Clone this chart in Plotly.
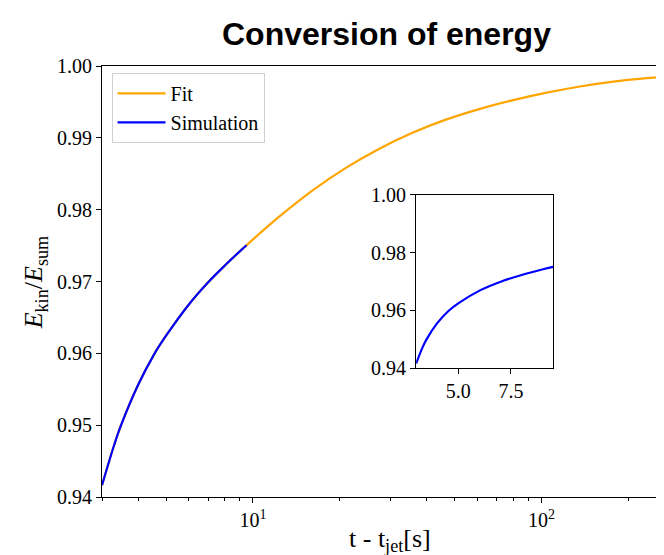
import math
import plotly.graph_objects as go

# ---- data ----
sim_t = [3.0, 3.304, 3.485, 4.0, 4.546, 5.015, 6.008, 7.012, 8.008, 9.023, 9.5]
sim_e = [0.94163, 0.94720, 0.94989, 0.95558, 0.95986, 0.96252, 0.96684,
         0.96993, 0.97226, 0.97423, 0.97505]

fit_t = [3.0, 3.304, 3.485, 4.0, 4.546, 5.015, 6.008, 7.012, 8.008, 9.023,
         9.618, 12.27, 16.01, 20.86, 27.22, 35.53, 46.34, 60.4, 79.8,
         104.2, 135.9, 177.3, 231.4, 265.0, 280.0]
fit_e = [0.94163, 0.94720, 0.94989, 0.95558, 0.95986, 0.96252, 0.96684,
         0.96993, 0.97226, 0.97423, 0.97524, 0.97895, 0.98262, 0.98575,
         0.98842, 0.99067, 0.99250, 0.99397, 0.99525, 0.99629, 0.99715,
         0.99782, 0.99830, 0.99849, 0.99855]

main_yticks = [0.94, 0.95, 0.96, 0.97, 0.98, 0.99, 1.00]
main_xticks = [10, 100]
main_xticktext = ["10<sup>1</sup>", "10<sup>2</sup>"]
main_xminor = [3, 4, 5, 6, 7, 8, 9, 20, 30, 40, 50, 60, 70, 80, 90, 200]
inset_yticks = [0.94, 0.96, 0.98, 1.00]
inset_xticks = [5.0, 7.5]

ORANGE = "#FFA500"
BLUE = "#0000FF"
SERIF = "Liberation Serif, DejaVu Serif, serif"
SANS = "Liberation Sans, Arial, sans-serif"

fig = go.Figure()

fig.add_trace(go.Scatter(x=fit_t, y=fit_e, mode="lines", name="Fit",
                         line=dict(color=ORANGE, width=2.2, shape="spline"),
                         xaxis="x", yaxis="y"))
fig.add_trace(go.Scatter(x=sim_t, y=sim_e, mode="lines", name="Simulation",
                         line=dict(color=BLUE, width=2.2, shape="spline"),
                         xaxis="x", yaxis="y"))
fig.add_trace(go.Scatter(x=sim_t, y=sim_e, mode="lines", showlegend=False,
                         line=dict(color=BLUE, width=2.2, shape="spline"),
                         xaxis="x2", yaxis="y2"))

axis_common = dict(showline=True, linecolor="black", linewidth=1.1,
                   ticks="outside", ticklen=5, tickwidth=1.1, tickcolor="black",
                   showgrid=False, zeroline=False,
                   tickfont=dict(family=SERIF, size=20, color="black"))

# the page body adds an 8px offset, so the figure is sized to the visible area
fig.update_layout(
    width=656, height=547,
    margin=dict(l=94, r=0, t=58, b=58),
    plot_bgcolor="white", paper_bgcolor="white",
    showlegend=True,
    legend=dict(x=0.017, y=0.984, xanchor="left", yanchor="top",
                bgcolor="white", bordercolor="#d0d0d0", borderwidth=1,
                font=dict(family=SERIF, size=20, color="black"),
                tracegroupgap=0, itemwidth=48),
    xaxis=dict(type="log", range=[math.log10(3.0), 2.4241],
               domain=[0, 1], mirror=True,
               tickvals=main_xticks, ticktext=main_xticktext,
               minor=dict(tickvals=main_xminor, ticks="outside", ticklen=3,
                          tickwidth=1, tickcolor="black"),
               anchor="y", **axis_common),
    yaxis=dict(range=[0.94, 1.00], domain=[0, 1], mirror=False,
               tickvals=main_yticks, tickformat=".2f", anchor="x",
               **axis_common),
    xaxis2=dict(range=[3.0, 9.5], domain=[0.559, 0.8026], mirror=True,
                tickvals=inset_xticks, tickformat=".1f", anchor="y2",
                **axis_common),
    yaxis2=dict(range=[0.94, 1.00], domain=[0.2988, 0.7012], mirror=True,
                tickvals=inset_yticks, tickformat=".2f", anchor="x2",
                **axis_common),
)

fig.add_annotation(text="<b>Conversion of energy</b>", xref="paper", yref="paper",
                   x=0.5065, y=1.027, xanchor="center", yanchor="bottom",
                   showarrow=False, font=dict(family=SANS, size=32, color="black"))
fig.add_annotation(text="t - t<sub>jet</sub>[s]", xref="paper", yref="paper",
                   x=0.5127, y=-0.1, xanchor="center", yanchor="middle",
                   showarrow=False, font=dict(family=SERIF, size=26, color="black"))
fig.add_annotation(text="<i>E</i><sub>kin</sub>/<i>E</i><sub>sum</sub>",
                   xref="paper", yref="paper", x=-0.1186, y=0.4988,
                   xanchor="center", yanchor="middle", textangle=-90,
                   showarrow=False, font=dict(family=SERIF, size=26, color="black"))

fig.write_html("out.html")
